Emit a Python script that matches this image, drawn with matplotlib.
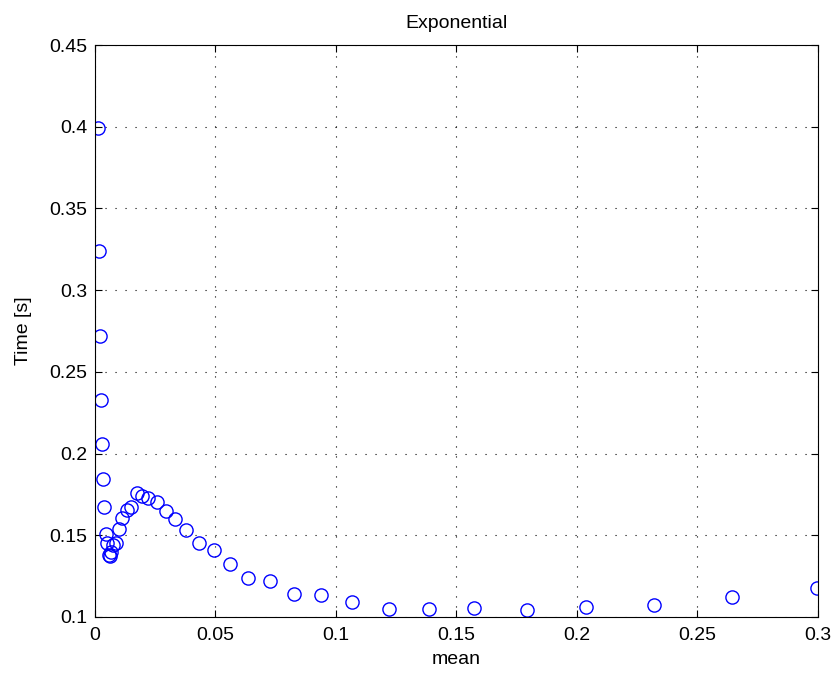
import matplotlib
matplotlib.use("Agg")
import matplotlib.pyplot as plt

mean = [0.0012, 0.0017, 0.0021, 0.0028, 0.0031, 0.0036, 0.0040, 0.0046,
        0.0053, 0.0060, 0.0064, 0.0069, 0.0078, 0.0089, 0.0102, 0.0115,
        0.0132, 0.0152, 0.0176, 0.0198, 0.0222, 0.0258, 0.0296, 0.0335,
        0.0379, 0.0434, 0.0495, 0.0561, 0.0638, 0.0727, 0.0827, 0.0940,
        0.1067, 0.1221, 0.1386, 0.1575, 0.1792, 0.2038, 0.2319, 0.2642,
        0.2998]
time_s = [0.399, 0.324, 0.272, 0.233, 0.206, 0.1845, 0.167, 0.1506,
          0.1455, 0.138, 0.1375, 0.140, 0.1440, 0.1455, 0.1537, 0.1608,
          0.1655, 0.1670, 0.1757, 0.1740, 0.1726, 0.1706, 0.1649, 0.1600,
          0.1535, 0.1451, 0.1412, 0.1322, 0.1241, 0.1222, 0.1140, 0.1137,
          0.1090, 0.1049, 0.1047, 0.1055, 0.1040, 0.1062, 0.1073, 0.1120,
          0.1175]

xticks = [0, 0.05, 0.1, 0.15, 0.2, 0.25, 0.3]
xtick_labels = ["0", "0.05", "0.1", "0.15", "0.2", "0.25", "0.3"]
yticks = [0.1, 0.15, 0.2, 0.25, 0.3, 0.35, 0.4, 0.45]
ytick_labels = ["0.1", "0.15", "0.2", "0.25", "0.3", "0.35", "0.4", "0.45"]

plt.rcParams["font.family"] = ["Liberation Sans", "DejaVu Sans"]
fs = 14

fig = plt.figure(figsize=(8.38, 6.76), dpi=100)
ax = fig.add_axes([0.113, 0.0873, 0.863, 0.8461])

ax.plot(mean, time_s, linestyle="none", marker="o", markersize=9.5,
        markerfacecolor="none", markeredgecolor="blue", markeredgewidth=1.0)

ax.set_xlim(0, 0.3)
ax.set_ylim(0.1, 0.45)
ax.set_xticks(xticks)
ax.set_xticklabels(xtick_labels)
ax.set_yticks(yticks)
ax.set_yticklabels(ytick_labels)
ax.tick_params(direction="in", top=True, right=True, labelsize=fs, length=5,
               width=0.8)
ax.tick_params(axis="y", pad=5)
ax.tick_params(axis="x", pad=7)
ax.grid(True, linestyle=(0, (1, 8)), color="black", linewidth=0.8)
for s in ax.spines.values():
    s.set_linewidth(0.8)

ax.set_xlabel("mean", fontsize=fs, labelpad=5)
ax.set_ylabel("Time [s]", fontsize=fs, labelpad=13)
ax.set_title("Exponential", fontsize=fs, pad=12)

fig.savefig("out.png", dpi=100)
